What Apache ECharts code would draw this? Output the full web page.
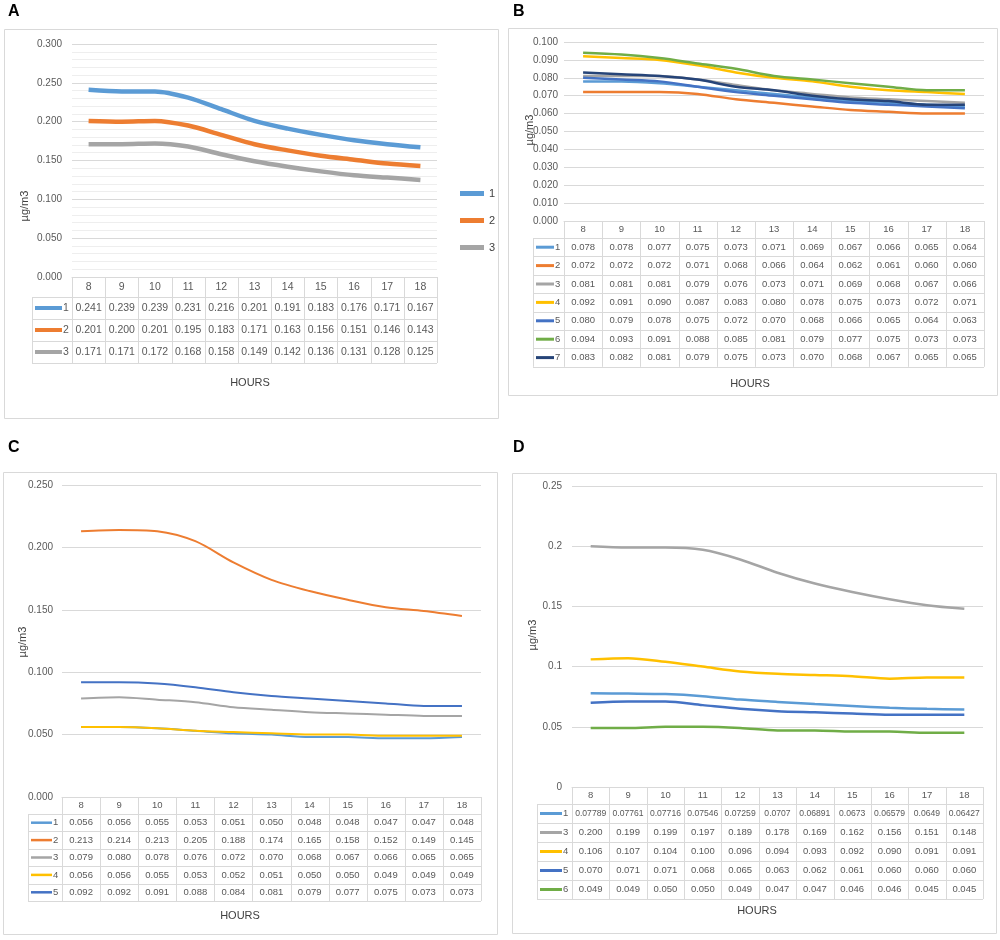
<!DOCTYPE html>
<html><head><meta charset="utf-8">
<script src="https://cdn.jsdelivr.net/npm/echarts@6/dist/echarts.min.js"></script>
<style>html,body{margin:0;padding:0;background:#fff}#c{width:1000px;height:940px}</style>
</head><body><div id="c"></div>
<script>
// ---------- DATA ----------
const hours = ['8','9','10','11','12','13','14','15','16','17','18'];

const a1 = [0.241,0.239,0.239,0.231,0.216,0.201,0.191,0.183,0.176,0.171,0.167];
const a2 = [0.201,0.200,0.201,0.195,0.183,0.171,0.163,0.156,0.151,0.146,0.143];
const a3 = [0.171,0.171,0.172,0.168,0.158,0.149,0.142,0.136,0.131,0.128,0.125];

const b1 = [0.078,0.078,0.077,0.075,0.073,0.071,0.069,0.067,0.066,0.065,0.064];
const b2 = [0.072,0.072,0.072,0.071,0.068,0.066,0.064,0.062,0.061,0.060,0.060];
const b3 = [0.081,0.081,0.081,0.079,0.076,0.073,0.071,0.069,0.068,0.067,0.066];
const b4 = [0.092,0.091,0.090,0.087,0.083,0.080,0.078,0.075,0.073,0.072,0.071];
const b5 = [0.080,0.079,0.078,0.075,0.072,0.070,0.068,0.066,0.065,0.064,0.063];
const b6 = [0.094,0.093,0.091,0.088,0.085,0.081,0.079,0.077,0.075,0.073,0.073];
const b7 = [0.083,0.082,0.081,0.079,0.075,0.073,0.070,0.068,0.067,0.065,0.065];

const c1 = [0.056,0.056,0.055,0.053,0.051,0.050,0.048,0.048,0.047,0.047,0.048];
const c2 = [0.213,0.214,0.213,0.205,0.188,0.174,0.165,0.158,0.152,0.149,0.145];
const c3 = [0.079,0.080,0.078,0.076,0.072,0.070,0.068,0.067,0.066,0.065,0.065];
const c4 = [0.056,0.056,0.055,0.053,0.052,0.051,0.050,0.050,0.049,0.049,0.049];
const c5 = [0.092,0.092,0.091,0.088,0.084,0.081,0.079,0.077,0.075,0.073,0.073];

const d1 = [0.07789,0.07761,0.07716,0.07546,0.07259,0.0707,0.06891,0.0673,0.06579,0.0649,0.06427];
const d3 = [0.200,0.199,0.199,0.197,0.189,0.178,0.169,0.162,0.156,0.151,0.148];
const d4 = [0.106,0.107,0.104,0.100,0.096,0.094,0.093,0.092,0.090,0.091,0.091];
const d5 = [0.070,0.071,0.071,0.068,0.065,0.063,0.062,0.061,0.060,0.060,0.060];
const d6 = [0.049,0.049,0.050,0.050,0.049,0.047,0.047,0.046,0.046,0.045,0.045];

// ---------- STYLE ----------
const LB='#5b9bd5', OR='#ed7d31', GR='#a5a5a5', YE='#ffc000', BL='#4472c4', GN='#70ad47', NV='#264478';
const FONT = 'Liberation Sans';
const f3 = v => v.toFixed(3);

const panels = [
  { label:'A', lx:8, ly:12, box:[4,29,494,389],
    grid:{left:72, top:44, width:365, height:233}, ymax:0.3, minor:true, ylab:f3, ymargin:10, lw:4.5, keyW:4,
    keyLeft:32, headerH:20, rowH:22, hm:5, yTitle:[25,206], hoursXY:[250,383], fs:10.5,
    rows:[{n:'1',d:a1,c:LB},{n:'2',d:a2,c:OR},{n:'3',d:a3,c:GR}] },
  { label:'B', lx:513, ly:12, box:[508,28,489,367],
    grid:{left:564, top:42, width:420, height:179}, ymax:0.1, interval:0.01, ylab:f3, ymargin:6, lw:2.5, keyW:3,
    keyLeft:533, headerH:17, rowH:18.4, hm:3, yTitle:[530,130], hoursXY:[750,384], fs:9.5,
    rows:[{n:'1',d:b1,c:LB},{n:'2',d:b2,c:OR},{n:'3',d:b3,c:GR},{n:'4',d:b4,c:YE},{n:'5',d:b5,c:BL},{n:'6',d:b6,c:GN},{n:'7',d:b7,c:NV}] },
  { label:'C', lx:8, ly:448, box:[3,472,494,462],
    grid:{left:62, top:485, width:419, height:312}, ymax:0.25, ylab:f3, ymargin:9, lw:2, keyW:2.5,
    keyLeft:28, headerH:17, rowH:17.4, hm:3, yTitle:[23,642], hoursXY:[240,916], fs:9.5,
    rows:[{n:'1',d:c1,c:LB},{n:'2',d:c2,c:OR},{n:'3',d:c3,c:GR},{n:'4',d:c4,c:YE},{n:'5',d:c5,c:BL}] },
  { label:'D', lx:513, ly:448, box:[512,473,484,460],
    grid:{left:572, top:486, width:411, height:301}, ymax:0.25, ylab:v=>String(+v.toFixed(2)), ymargin:10, lw:2.5, keyW:3,
    keyLeft:537, headerH:17, rowH:19, hm:3, yTitle:[533,635], hoursXY:[757,911], fs:9.5,
    rows:[{n:'1',d:d1,c:LB,raw:true},{n:'3',d:d3,c:GR},{n:'4',d:d4,c:YE},{n:'5',d:d5,c:BL},{n:'6',d:d6,c:GN}] }
];

const chart = echarts.init(document.getElementById('c'), null, {renderer:'canvas'});

const grids=[], xAxes=[], yAxes=[], series=[];
panels.forEach((p,i)=>{
  grids.push(Object.assign({}, p.grid));
  xAxes.push({ type:'category', gridIndex:i, data:hours, boundaryGap:true,
    axisLine:{lineStyle:{color:'#d9d9d9'}}, axisTick:{show:false},
    axisLabel:{color:'#595959', fontSize:p.fs, fontFamily:FONT, margin:p.hm, interval:0} });
  yAxes.push({ type:'value', gridIndex:i, min:0, max:p.ymax, interval:p.interval||0.05,
    axisLine:{show:false}, axisTick:{show:false},
    axisLabel:{color:'#595959', fontSize:10, fontFamily:FONT, margin:p.ymargin, formatter:p.ylab},
    splitLine:{lineStyle:{color:'#d9d9d9'}},
    minorTick:{show:false, splitNumber:5},
    minorSplitLine:{show:!!p.minor, lineStyle:{color:'#eeeeee'}} });
  p.rows.forEach(r=>{
    series.push({ type:'line', name: i===0 ? r.n : p.label + r.n, xAxisIndex:i, yAxisIndex:i,
      data:r.d, smooth:0.3, symbol:'none', lineStyle:{width:p.lw, color:r.c}, itemStyle:{color:r.c},
      emphasis:{disabled:true} });
  });
});

chart.setOption({
  animation:false,
  textStyle:{fontFamily:FONT},
  grid:grids, xAxis:xAxes, yAxis:yAxes, series:series,
  legend:{ data:['1','2','3'], orient:'vertical', left:455, top:183, itemWidth:24, itemHeight:5,
    itemGap:16, icon:'rect', textStyle:{fontSize:11, color:'#404040', fontFamily:FONT} }
});

// ---------- TABLES & TEXT ----------
const g = [];
const LC = '#d9d9d9';
function ln(x1,y1,x2,y2,color,w){ g.push({type:'line', silent:true, z:1, shape:{x1,y1,x2,y2}, style:{stroke:color, lineWidth:w||1}}); }
function tx(x,y,text,opt){ g.push({type:'text', silent:true, z:5, x, y, rotation:opt.rot||0,
  style:Object.assign({text, fill:'#595959', font:(opt.bold?'bold ':'')+(opt.size||10)+'px '+FONT, align:opt.align||'center', verticalAlign:'middle'}, opt.style||{})}); }

panels.forEach((p,pi)=>{
  const [bx,by,bw,bh] = p.box;
  g.push({type:'rect', silent:true, z:0, shape:{x:bx+0.5,y:by+0.5,width:bw,height:bh}, style:{fill:'none', stroke:'#d9d9d9', lineWidth:1}});
  tx(p.lx, p.ly, p.label, {bold:true, size:16, align:'left', style:{fill:'#000'}});
  tx(p.yTitle[0], p.yTitle[1], 'µg/m3', {size:11, rot:Math.PI/2, style:{fill:'#404040'}});
  tx(p.hoursXY[0], p.hoursXY[1], 'HOURS', {size:11, style:{fill:'#404040'}});

  const axisY = p.grid.top + p.grid.height;
  const left = p.grid.left, right = p.grid.left + p.grid.width;
  const hb = axisY + p.headerH;
  const bottom = hb + p.rows.length * p.rowH;
  const colW = p.grid.width / hours.length;
  for (let r=0; r<=p.rows.length; r++){
    const y = Math.round(hb + r*p.rowH) + 0.5;
    ln(p.keyLeft, y, right, y, LC);
  }
  for (let i=0; i<=hours.length; i++){
    const x = Math.round(left + i*colW) + 0.5;
    ln(x, axisY, x, bottom, LC);
  }
  ln(p.keyLeft+0.5, hb, p.keyLeft+0.5, bottom, LC);
  p.rows.forEach((r,ri)=>{
    const cy = hb + (ri+0.5)*p.rowH;
    ln(p.keyLeft+3, cy, left-10, cy, r.c, p.keyW);
    tx(left-9, cy, r.n, {size:p.fs, align:'left'});
    r.d.forEach((v,ci)=>{
      const x = chart.convertToPixel({xAxisIndex:pi}, hours[ci]);
      tx(x, cy, r.raw ? String(v) : f3(v), {size: r.raw ? 8.6 : p.fs});
    });
  });
});
chart.setOption({graphic:{elements:g}});
</script>
</body></html>
